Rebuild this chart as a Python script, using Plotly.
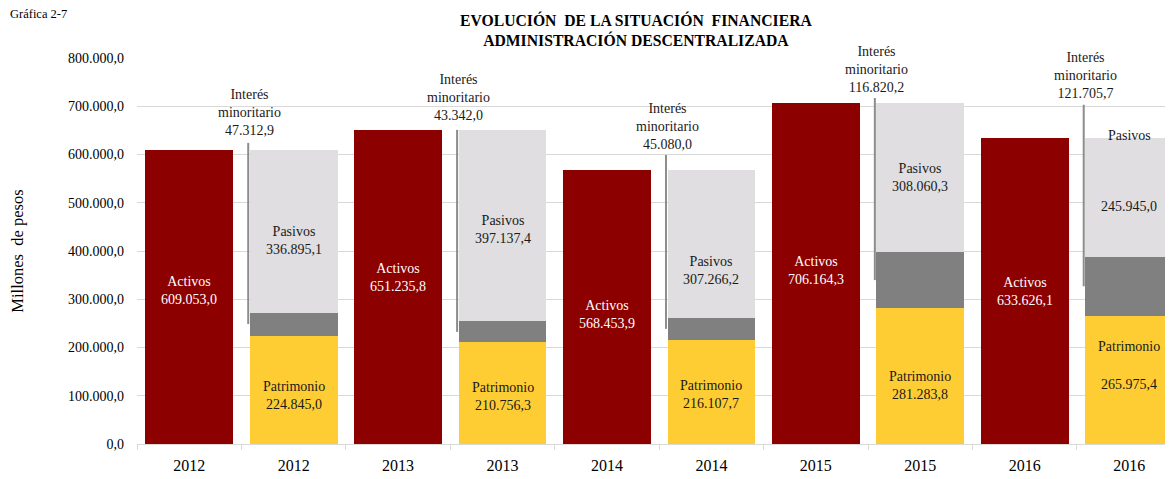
import plotly.graph_objects as go

# ---------------- data ----------------
years = ["2012", "2013", "2014", "2015", "2016"]
activos = [609053.0, 651235.8, 568453.9, 706164.3, 633626.1]
patrimonio = [224845.0, 210756.3, 216107.7, 281283.8, 265975.4]
interes = [47312.9, 43342.0, 45080.0, 116820.2, 121705.7]
pasivos = [336895.1, 397137.4, 307266.2, 308060.3, 245945.0]
y_tick_vals = [0, 100000, 200000, 300000, 400000, 500000, 600000, 700000, 800000]

# ---------------- layout helpers (positions / styles) ----------------
act_pos = [0, 2, 4, 6, 8]
stk_pos = [1, 3, 5, 7, 9]
BAR_W = 0.84
C_ACT = "#8C0000"
C_PAT = "#FECD33"
C_INT = "#808080"
C_PAS = "#E0DEE0"
FONT = "Liberation Serif"

# label pixel shifts relative to segment midpoints
act_shift = [7, 9, -8, 3, 0]
pas_shift = [-9, -4, -27, 0, None]
pat_shift = [-6, -3, -3, -9, None]
# callout (Interés minoritario) label centre / leader top, in axis units
callout_y = [688000, 719000, 659000, 777000, 763000]
leader_top = [624000, 651000, 599000, 717000, 703000]


def fmt(v):
    s = f"{v:,.1f}"
    return s.replace(",", "X").replace(".", ",").replace("X", ".")


fig = go.Figure()
fig.add_trace(go.Bar(x=act_pos, y=activos, name="Activos", marker=dict(color=C_ACT, line=dict(width=0)),
                     width=BAR_W, hoverinfo="skip"))
fig.add_trace(go.Bar(x=stk_pos, y=patrimonio, name="Patrimonio", marker=dict(color=C_PAT, line=dict(width=0)),
                     width=BAR_W, hoverinfo="skip"))
fig.add_trace(go.Bar(x=stk_pos, y=interes, name="Interés minoritario", marker=dict(color=C_INT, line=dict(width=0)),
                     width=BAR_W, hoverinfo="skip"))
fig.add_trace(go.Bar(x=stk_pos, y=pasivos, name="Pasivos", marker=dict(color=C_PAS, line=dict(width=0)),
                     width=BAR_W, hoverinfo="skip"))

ann = []
shapes = []
DARK = "#1a1a1a"
for i in range(5):
    # Activos label
    ann.append(dict(x=act_pos[i], y=activos[i] / 2, yshift=act_shift[i], xref="x", yref="y",
                    text=f"Activos<br>{fmt(activos[i])}", showarrow=False,
                    font=dict(family=FONT, size=14, color="white")))
    gray_lo = patrimonio[i]
    gray_hi = patrimonio[i] + interes[i]
    top = gray_hi + pasivos[i]
    # Pasivos label
    if pas_shift[i] is not None:
        ann.append(dict(x=stk_pos[i], y=(gray_hi + top) / 2, yshift=pas_shift[i], xref="x", yref="y",
                        text=f"Pasivos<br>{fmt(pasivos[i])}", showarrow=False,
                        font=dict(family=FONT, size=14, color=DARK)))
    else:
        ann.append(dict(x=stk_pos[i], y=top, yshift=3, xref="x", yref="y",
                        text="Pasivos", showarrow=False,
                        font=dict(family=FONT, size=14, color=DARK)))
        ann.append(dict(x=stk_pos[i], y=(gray_hi + top) / 2, yshift=-9, xref="x", yref="y",
                        text=fmt(pasivos[i]), showarrow=False,
                        font=dict(family=FONT, size=14, color=DARK)))
    # Patrimonio label
    if pat_shift[i] is not None:
        ann.append(dict(x=stk_pos[i], y=patrimonio[i] / 2, yshift=pat_shift[i], xref="x", yref="y",
                        text=f"Patrimonio<br>{fmt(patrimonio[i])}", showarrow=False,
                        font=dict(family=FONT, size=14, color=DARK)))
    else:
        ann.append(dict(x=stk_pos[i], y=patrimonio[i] / 2, yshift=33, xref="x", yref="y",
                        text="Patrimonio", showarrow=False,
                        font=dict(family=FONT, size=14, color=DARK)))
        ann.append(dict(x=stk_pos[i], y=patrimonio[i] / 2, yshift=-5, xref="x", yref="y",
                        text=fmt(patrimonio[i]), showarrow=False,
                        font=dict(family=FONT, size=14, color=DARK)))
    # Interés minoritario callout
    left_edge = stk_pos[i] - BAR_W / 2
    ann.append(dict(x=left_edge, y=callout_y[i], xref="x", yref="y",
                    text=f"Interés<br>minoritario<br>{fmt(interes[i])}", showarrow=False,
                    font=dict(family=FONT, size=14, color=DARK)))
    shapes.append(dict(type="line", xref="x", yref="y", x0=left_edge - 0.015, x1=left_edge - 0.015,
                       y0=leader_top[i], y1=(gray_lo + gray_hi) / 2,
                       line=dict(color="#8C8C8C", width=2)))

# titles
ann.append(dict(xref="paper", yref="paper", x=0.4817, y=1.0, yshift=28, yanchor="middle",
                text="<b>EVOLUCIÓN  DE LA SITUACIÓN  FINANCIERA<br>ADMINISTRACIÓN DESCENTRALIZADA</b>",
                showarrow=False, font=dict(family=FONT, size=15.7, color="black")))
ann.append(dict(xref="paper", yref="paper", x=-129 / 1036, y=1.0, yshift=44, xanchor="left", yanchor="middle",
                text="Gráfica 2-7", showarrow=False, font=dict(family=FONT, size=12.5, color="black")))

tick_text = []
for y in years:
    tick_text += [y, y]

fig.update_layout(
    width=1165, height=471,
    margin=dict(l=129, r=0, t=50, b=35),
    barmode="stack",
    bargap=0.16,
    showlegend=False,
    plot_bgcolor="white",
    paper_bgcolor="white",
    font=dict(family=FONT, size=14, color="black"),
    annotations=ann,
    shapes=shapes,
    xaxis=dict(range=[-0.5, 9.42], tickmode="array", tickvals=list(range(10)), ticktext=tick_text,
               ticks="", showgrid=False, showline=True, linecolor="#D9D9D9", linewidth=1,
               tickfont=dict(family=FONT, size=16, color="black"), zeroline=False,
               ticklabelstandoff=7, automargin=False,
               minor=dict(tickmode="linear", tick0=-0.5, dtick=1, ticks="outside", ticklen=5,
                          tickcolor="#D9D9D9", showgrid=False)),
    yaxis=dict(range=[0, 800000], tickmode="array", tickvals=y_tick_vals,
               ticktext=[fmt(v) for v in y_tick_vals], showgrid=True, gridcolor="#D9D9D9", gridwidth=1,
               zeroline=False, ticks="", tickfont=dict(family=FONT, size=14, color="black"),
               ticklabelstandoff=12, automargin=False,
               title=dict(text="Millones  de pesos", font=dict(family=FONT, size=16.5, color="black"),
                          standoff=40)),
)

fig.write_html("out.html")
